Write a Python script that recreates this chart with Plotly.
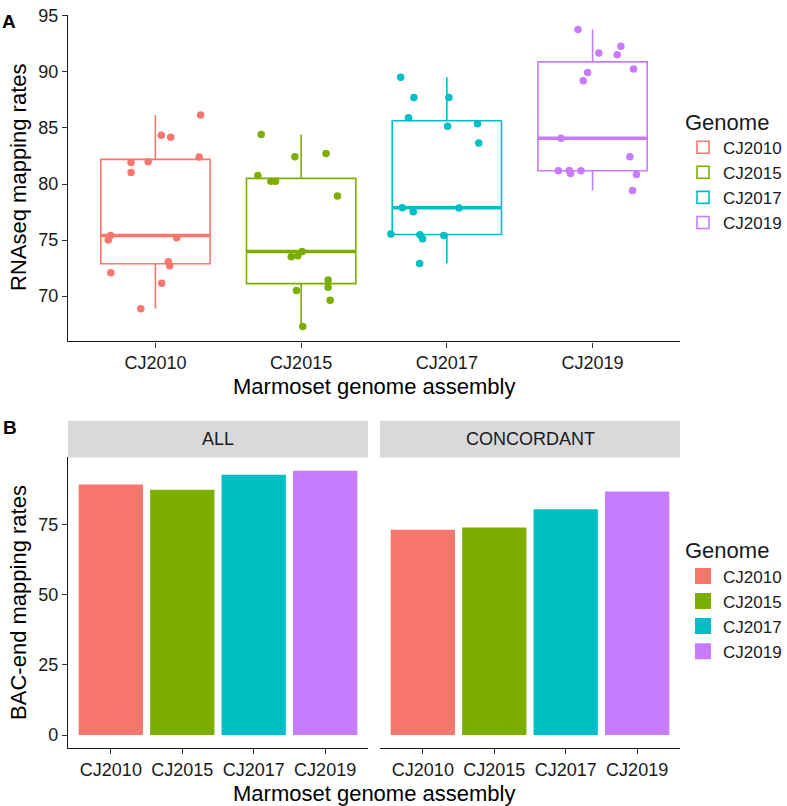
import numpy as np
import plotly.graph_objects as go

W, H = 787, 806

genomes = ["CJ2010", "CJ2015", "CJ2017", "CJ2019"]
colors = ["#F8766D", "#7CAE00", "#00BFC4", "#C77CFF"]

# panel A: RNAseq mapping rates per sample, plus the horizontal jitter
rnaseq_cj2010 = [86.15, 84.35, 84.18, 82.41, 81.91, 81.99, 81.03, 75.41, 75.0, 75.21,
                 73.06, 72.71, 72.09, 71.15, 68.88]
jitter_cj2010 = [0.31, 0.04, 0.105, 0.30, -0.167, -0.05, -0.167, -0.308, -0.324, 0.146,
                 0.089, 0.098, -0.306, 0.043, -0.10]
rnaseq_cj2015 = [84.41, 82.44, 82.71, 80.76, 80.24, 80.24, 78.94, 73.97, 73.5, 73.59,
                 71.44, 70.79, 70.5, 69.62, 67.29]
jitter_cj2015 = [-0.274, -0.043, 0.171, -0.297, -0.208, -0.176, 0.249, 0.007, -0.068, -0.023,
                 0.185, 0.185, -0.032, 0.199, 0.011]
rnaseq_cj2017 = [89.53, 87.71, 87.71, 85.91, 85.15, 85.38, 83.65, 77.88, 77.53, 77.85,
                 75.53, 75.47, 75.12, 75.41, 72.91]
jitter_cj2017 = [-0.317, -0.226, 0.014, -0.263, 0.005, 0.21, 0.219, -0.306, -0.231, 0.084,
                 -0.384, -0.185, -0.167, -0.021, -0.187]
rnaseq_cj2019 = [93.79, 91.68, 92.29, 91.53, 89.94, 89.21, 90.26, 84.09, 82.44, 81.18,
                 81.21, 80.94, 81.18, 80.85, 79.41]
jitter_cj2019 = [-0.10, 0.043, 0.194, 0.169, -0.034, -0.064, 0.281, -0.217, 0.256, -0.235,
                 -0.16, -0.151, -0.08, 0.301, 0.274]

rnaseq = [rnaseq_cj2010, rnaseq_cj2015, rnaseq_cj2017, rnaseq_cj2019]
jitter = [jitter_cj2010, jitter_cj2015, jitter_cj2017, jitter_cj2019]

# panel B: BAC-end mapping rates
bac_all = [89.2, 87.3, 92.7, 94.1]
bac_concordant = [73.1, 73.9, 80.4, 86.7]

FONT = "Liberation Sans, Arial, sans-serif"


def px_x(x):
    # page pixel -> paper coordinate
    return x / W


def px_y(y):
    return 1 - y / H


fig = go.Figure()

# --- panel A: boxes, medians, jittered points
for i, (g, c, vals, jit) in enumerate(zip(genomes, colors, rnaseq, jitter), start=1):
    fig.add_trace(go.Box(
        x=[i] * len(vals), y=vals, name=g, width=0.75,
        quartilemethod="inclusive", boxpoints=False, whiskerwidth=0,
        line=dict(color=c, width=1.6), fillcolor="white",
        legend="legend", showlegend=True,
        xaxis="x", yaxis="y",
    ))
    med = float(np.median(vals))
    fig.add_trace(go.Scatter(
        x=[i - 0.375, i + 0.375], y=[med, med], mode="lines",
        line=dict(color=c, width=3.5), showlegend=False, hoverinfo="skip",
        xaxis="x", yaxis="y",
    ))
    fig.add_trace(go.Scatter(
        x=[i + d for d in jit], y=vals, mode="markers",
        marker=dict(color=c, size=7.5), showlegend=False, name=g,
        xaxis="x", yaxis="y",
    ))

# --- panel B: faceted bars
fig.add_trace(go.Bar(x=genomes, y=bac_all, marker=dict(color=colors, line_width=0),
                     showlegend=False, xaxis="x2", yaxis="y2"))
fig.add_trace(go.Bar(x=genomes, y=bac_concordant, marker=dict(color=colors, line_width=0),
                     showlegend=False, xaxis="x3", yaxis="y3"))
for g, c in zip(genomes, colors):
    fig.add_trace(go.Scatter(x=[None], y=[None], mode="markers", name=g,
                             marker=dict(symbol="square", size=16, color=c),
                             legend="legend2", xaxis="x2", yaxis="y2"))

# ggplot-style 5% expansion
all_vals = np.concatenate(rnaseq)
span = all_vals.max() - all_vals.min()
yA_range = [all_vals.min() - 0.05 * span, all_vals.max() + 0.05 * span]
bmax = max(max(bac_all), max(bac_concordant))
yB_range = [-0.05 * bmax, 1.05 * bmax]

axis_common = dict(
    showline=True, linecolor="#1a1a1a", linewidth=1.3, mirror=False,
    ticks="outside", ticklen=5, tickwidth=1.2, tickcolor="#333333",
    showgrid=False, zeroline=False, ticklabeloverflow="allow",
    tickfont=dict(family=FONT, size=18, color="#1a1a1a"),
)

xA = [px_x(68), px_x(680)]
xB1 = [px_x(68), px_x(368)]
xB2 = [px_x(380), px_x(680)]
yA = [px_y(336.7), px_y(6.6)]
yB = [px_y(747.7), px_y(454)]

legend_style = dict(
    xanchor="left", yanchor="top",
    title=dict(text="Genome", font=dict(family=FONT, size=22)),
    font=dict(family=FONT, size=17), bgcolor="rgba(0,0,0,0)",
)

fig.update_layout(
    width=W, height=H,
    margin=dict(l=0, r=0, t=0, b=0),
    paper_bgcolor="white", plot_bgcolor="white",
    font=dict(family=FONT, color="#1a1a1a"),
    boxmode="overlay", bargap=0.1,
    xaxis=dict(axis_common, domain=xA, range=[0.4, 4.6],
               tickvals=[1, 2, 3, 4], ticktext=genomes, anchor="y"),
    yaxis=dict(axis_common, domain=yA, range=yA_range,
               tickvals=[70, 75, 80, 85, 90, 95], anchor="x"),
    xaxis2=dict(axis_common, domain=xB1, range=[-0.6, 3.6], anchor="y2",
                type="category"),
    yaxis2=dict(axis_common, domain=yB, range=yB_range,
                tickvals=[0, 25, 50, 75], anchor="x2"),
    xaxis3=dict(axis_common, domain=xB2, range=[-0.6, 3.6], anchor="y3",
                type="category"),
    yaxis3=dict(domain=yB, range=yB_range, anchor="x3", showline=False,
                showticklabels=False, ticks="", showgrid=False, zeroline=False),
    legend=dict(legend_style, x=px_x(683), y=px_y(94)),
    legend2=dict(legend_style, x=px_x(683), y=px_y(527), itemsizing="trace"),
)

# facet strips
for (x0, x1), label in [(xB1, "ALL"), (xB2, "CONCORDANT")]:
    fig.add_shape(type="rect", xref="paper", yref="paper",
                  x0=x0, x1=x1, y0=px_y(454), y1=px_y(417),
                  fillcolor="#D9D9D9", line_width=0, layer="below")
    fig.add_annotation(x=(x0 + x1) / 2, y=px_y(435.5), xref="paper", yref="paper",
                       text=label, showarrow=False, xanchor="center", yanchor="middle",
                       font=dict(family=FONT, size=18, color="#1a1a1a"))

# axis titles and panel tags
title_font = dict(family=FONT, size=22, color="black")
for text, x, y, angle in [
    ("RNAseq mapping rates", 19, (6.6 + 336.7) / 2, -90),
    ("BAC-end mapping rates", 19, (454 + 747.7) / 2, -90),
    ("Marmoset genome assembly", 374, 382, 0),
    ("Marmoset genome assembly", 374, 793, 0),
]:
    fig.add_annotation(x=px_x(x), y=px_y(y), xref="paper", yref="paper", text=text,
                       textangle=angle, showarrow=False, xanchor="center",
                       yanchor="middle", font=title_font)

for text, x, y in [("A", 9, 13.5), ("B", 10, 423.5)]:
    fig.add_annotation(x=px_x(x), y=px_y(y), xref="paper", yref="paper",
                       text="<b>%s</b>" % text, showarrow=False, xanchor="center",
                       yanchor="middle", font=dict(family=FONT, size=19, color="black"))

# drop the browser's default body margin so the figure sits at the page corner
fig.write_html("out.html", config={"displayModeBar": False},
               post_script="document.body.style.margin = '0';")
